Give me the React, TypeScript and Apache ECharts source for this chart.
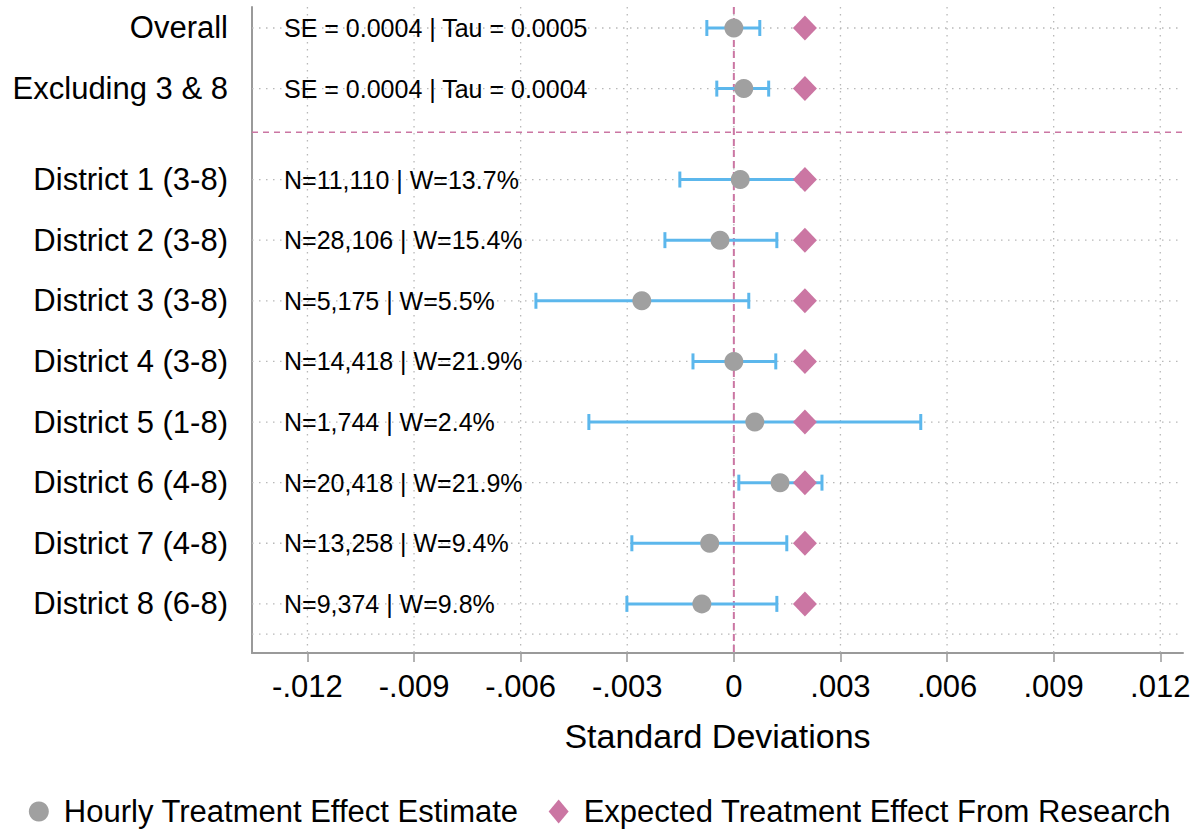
import React, { useEffect, useRef } from "react";
import * as echarts from "echarts";

const rowLabels = [
  "Overall",
  "Excluding 3 & 8",
  "District 1 (3-8)",
  "District 2 (3-8)",
  "District 3 (3-8)",
  "District 4 (3-8)",
  "District 5 (1-8)",
  "District 6 (4-8)",
  "District 7 (4-8)",
  "District 8 (6-8)",
];
const rowPositions = [0, 1, 2.5, 3.5, 4.5, 5.5, 6.5, 7.5, 8.5, 9.5];
const estimates = [0.0, 0.00028, 0.00018, -0.00039, -0.00259, 0.0, 0.00059, 0.0013, -0.00068, -0.0009];
const ciLower = [-0.00076, -0.00048, -0.00152, -0.00194, -0.00557, -0.00115, -0.00408, 0.00014, -0.00287, -0.00301];
const ciUpper = [0.00073, 0.00098, 0.0019, 0.00121, 0.00042, 0.00118, 0.00526, 0.00248, 0.00149, 0.00121];
const expected = [0.002, 0.002, 0.002, 0.002, 0.002, 0.002, 0.002, 0.002, 0.002, 0.002];
const annotations = [
  "SE = 0.0004 | Tau = 0.0005",
  "SE = 0.0004 | Tau = 0.0004",
  "N=11,110 | W=13.7%",
  "N=28,106 | W=15.4%",
  "N=5,175 | W=5.5%",
  "N=14,418 | W=21.9%",
  "N=1,744 | W=2.4%",
  "N=20,418 | W=21.9%",
  "N=13,258 | W=9.4%",
  "N=9,374 | W=9.8%",
];
const xTicks = [-0.012, -0.009, -0.006, -0.003, 0, 0.003, 0.006, 0.009, 0.012];
const yGridLines = [0, 1, 2.5, 3.5, 4.5, 5.5, 6.5, 7.5, 8.5, 9.5, 10];
const zeroLineX = 0;
const separatorY = 1.72;
const annotationX = -0.01266;
const xMin = -0.01356;
const xMax = 0.01264;
const yMin = -0.346;
const yMax = 10.31;

const FONT = "'Liberation Sans', Arial, Helvetica, sans-serif";
const PINK = "#CB76A3";
const BLUE = "#5CB7EC";
const GRAY = "#A0A0A0";
const GRID_GRAY = "#b8b8b8";

function fmtTick(v: number): string {
  if (Math.abs(v) < 1e-12) return "0";
  const s = Math.round(Math.abs(v) * 1000).toString().padStart(3, "0");
  return (v < 0 ? "-" : "") + "." + s;
}

export default function App() {
  const ref = useRef<HTMLDivElement>(null);
  useEffect(() => {
    if (!ref.current) return;
    const chart = echarts.init(ref.current, null, { renderer: "svg" });
    const labelMap: Record<string, string> = {};
    rowPositions.forEach((p, i) => (labelMap[String(p)] = rowLabels[i]));

    // Lines spanning the whole plot area: kind 0 = vertical at x value, kind 1 = horizontal at y value
    const refLine = (color: string, width: number, dash: number[], z: number, items: number[][]) => ({
      type: "custom",
      silent: true,
      z,
      clip: false,
      data: items,
      renderItem: (params: any, api: any) => {
        const cs = params.coordSys;
        const kind = api.value(0);
        const v = api.value(1);
        let shape;
        if (kind === 0) {
          const p = api.coord([v, 0]);
          shape = { x1: p[0], y1: cs.y, x2: p[0], y2: cs.y + cs.height };
        } else {
          const p = api.coord([0, v]);
          shape = { x1: cs.x, y1: p[1], x2: cs.x + cs.width, y2: p[1] };
        }
        return {
          type: "line",
          shape,
          style: { stroke: color, lineWidth: width, lineDash: dash, fill: null },
        };
      },
    });

    const option: any = {
      animation: false,
      backgroundColor: "#fff",
      textStyle: { fontFamily: FONT },
      grid: { left: 252, right: 17, top: 7, bottom: 177 },
      legend: {
        left: "center",
        top: 791,
        itemWidth: 20,
        itemHeight: 24,
        itemGap: 30,
        itemStyle: { borderWidth: 0 },
        textStyle: { fontSize: 31, color: "#000", fontFamily: FONT, padding: [0, 0, 0, 10] },
        data: [
          { name: "Hourly Treatment Effect Estimate", icon: "circle" },
          { name: "Expected Treatment Effect From Research", icon: "diamond" },
        ],
      },
      xAxis: {
        type: "value",
        position: "bottom",
        min: xMin,
        max: xMax,
        name: "Standard Deviations",
        nameLocation: "middle",
        nameGap: 66,
        nameTextStyle: { fontSize: 34, color: "#000", fontFamily: FONT },
        axisLine: { show: true, onZero: false, lineStyle: { color: "#9a9a9a", width: 2 } },
        axisTick: { show: true, customValues: xTicks, length: 9, lineStyle: { color: "#9a9a9a", width: 1.5 } },
        axisLabel: {
          customValues: xTicks,
          formatter: (v: number) => fmtTick(v),
          fontSize: 31,
          color: "#000",
          margin: 18,
          fontFamily: FONT,
        },
        splitLine: { show: false },
        minorSplitLine: { show: false },
      },
      yAxis: {
        type: "value",
        position: "left",
        inverse: true,
        min: yMin,
        max: yMax,
        axisLine: { show: true, onZero: false, lineStyle: { color: "#9a9a9a", width: 2 } },
        axisTick: { show: false },
        axisLabel: {
          customValues: rowPositions,
          formatter: (v: number) => labelMap[String(v)] ?? "",
          fontSize: 31,
          color: "#000",
          margin: 24,
          fontFamily: FONT,
        },
        splitLine: { show: false },
        minorSplitLine: { show: false },
      },
      series: [
        refLine(GRID_GRAY, 1.3, [1.5, 5.5], 1, [
          ...xTicks.map((v) => [0, v]),
          ...yGridLines.map((v) => [1, v]),
        ]),
        refLine(PINK, 2, [7, 4], 3, [[0, zeroLineX]]),
        refLine(PINK, 1.6, [6, 5], 3, [[1, separatorY]]),
        {
          type: "custom",
          name: "annotations",
          silent: true,
          z: 4,
          data: annotations.map((t, i) => [annotationX, rowPositions[i], i]),
          encode: { x: 0, y: 1 },
          renderItem: (params: any, api: any) => {
            const p = api.coord([api.value(0), api.value(1)]);
            const idx = api.value(2);
            return {
              type: "text",
              x: p[0],
              y: p[1],
              style: {
                text: annotations[idx],
                fill: "#000",
                font: `25px ${FONT}`,
                textAlign: "left",
                textVerticalAlign: "middle",
              },
            };
          },
        },
        {
          type: "custom",
          name: "ci",
          silent: true,
          z: 5,
          data: rowPositions.map((y, i) => [ciLower[i], ciUpper[i], y]),
          encode: { x: [0, 1], y: 2 },
          renderItem: (params: any, api: any) => {
            const a = api.coord([api.value(0), api.value(2)]);
            const b = api.coord([api.value(1), api.value(2)]);
            const h = 8;
            const st = { stroke: BLUE, lineWidth: 3 };
            return {
              type: "group",
              children: [
                { type: "line", shape: { x1: a[0], y1: a[1], x2: b[0], y2: b[1] }, style: st },
                { type: "line", shape: { x1: a[0], y1: a[1] - h, x2: a[0], y2: a[1] + h }, style: st },
                { type: "line", shape: { x1: b[0], y1: b[1] - h, x2: b[0], y2: b[1] + h }, style: st },
              ],
            };
          },
        },
        {
          type: "scatter",
          name: "Hourly Treatment Effect Estimate",
          symbol: "circle",
          symbolSize: 19,
          z: 6,
          itemStyle: { color: GRAY, opacity: 1 },
          data: rowPositions.map((y, i) => [estimates[i], y]),
        },
        {
          type: "scatter",
          name: "Expected Treatment Effect From Research",
          symbol: "diamond",
          symbolSize: [24, 25],
          z: 7,
          itemStyle: { color: PINK, opacity: 1 },
          data: rowPositions.map((y, i) => [expected[i], y]),
        },
      ],
    };
    chart.setOption(option);
    return () => chart.dispose();
  }, []);
  return (
    <div
      ref={ref}
      style={{ position: "absolute", left: 0, top: 0, width: 1200, height: 830, background: "#fff" }}
    />
  );
}
